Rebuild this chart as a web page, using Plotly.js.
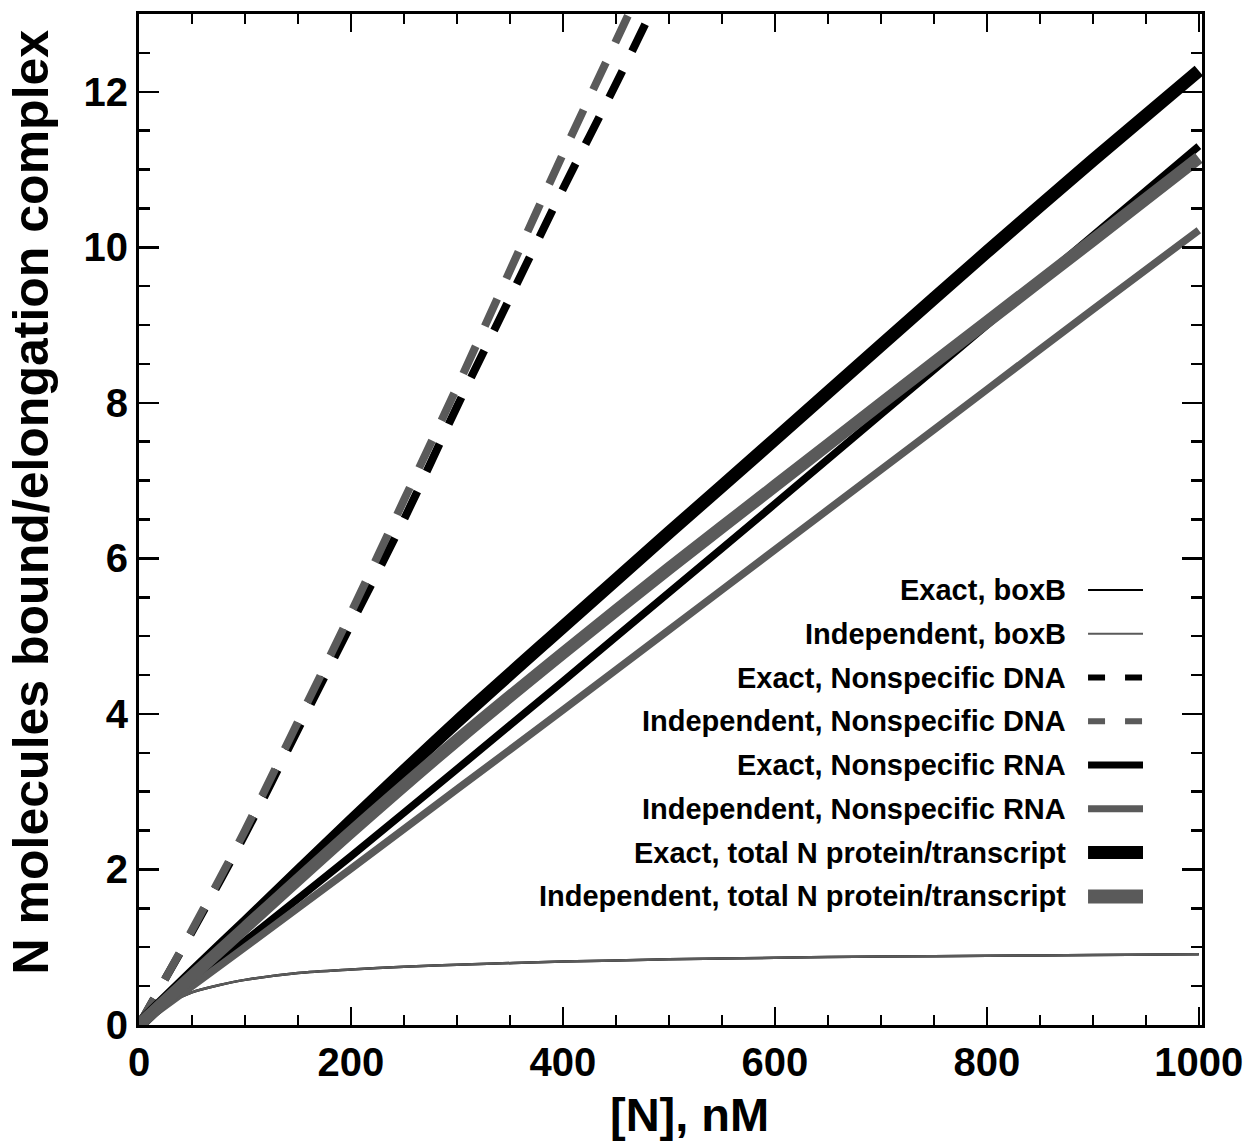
<!DOCTYPE html>
<html><head><meta charset="utf-8">
<script src="https://cdn.plot.ly/plotly-3.0.1.min.js"></script>
<style>html,body{margin:0;padding:0;background:#fff}#chart{width:1243px;height:1148px}</style>
</head><body><div id="chart"></div>
<script>
// ---- data ----
const seriesNames = [
  "Exact, boxB",
  "Independent, boxB",
  "Exact, Nonspecific DNA",
  "Independent, Nonspecific DNA",
  "Exact, Nonspecific RNA",
  "Independent, Nonspecific RNA",
  "Exact, total N protein/transcript",
  "Independent, total N protein/transcript"
];
const xTitle = "[N], nM";
const yTitle = "N molecules bound/elongation complex";
const xTickVals = [0, 200, 400, 600, 800, 1000];
const yTickVals = [0, 2, 4, 6, 8, 10, 12];

const boxBX = [0, 10, 25, 50, 75, 100, 150, 200, 250, 300, 400, 500, 600, 700, 800, 900, 1000];
const exactBoxB = [0, 0.12, 0.26, 0.42, 0.51, 0.58, 0.67, 0.715, 0.75, 0.775, 0.815, 0.845, 0.865, 0.88, 0.89, 0.90, 0.91];
const indepBoxB = [0, 0.12, 0.26, 0.42, 0.51, 0.58, 0.67, 0.715, 0.75, 0.775, 0.815, 0.845, 0.865, 0.88, 0.89, 0.90, 0.91];
const dnaX = [0, 25, 50, 100, 150, 200, 250, 300, 350, 400, 450, 500];
const exactDNA = [0, 0.6, 1.2, 2.45, 3.8, 5.15, 6.5, 7.95, 9.35, 10.75, 12.1, 13.5];
const indepDNA = [0, 0.6, 1.22, 2.5, 3.9, 5.3, 6.75, 8.2, 9.7, 11.2, 12.65, 14.1];
const lineX = [0, 50, 100, 200, 300, 400, 500, 600, 700, 800, 900, 1000];
const exactRNA = [0, 0.54, 1.08, 2.17, 3.29, 4.42, 5.56, 6.7, 7.85, 9.0, 10.15, 11.3];
const indepRNA = [0, 0.5, 1.0, 2.01, 3.03, 4.05, 5.08, 6.11, 7.14, 8.17, 9.2, 10.22];
const exactTotal = [0, 0.66, 1.31, 2.62, 3.9, 5.12, 6.33, 7.53, 8.74, 9.94, 11.12, 12.27];
const indepTotal = [0, 0.63, 1.25, 2.48, 3.66, 4.78, 5.87, 6.93, 7.99, 9.04, 10.09, 11.15];

// ---- styles ----
const BLACK = "#000000", GRAY = "#5a5a5a";
const FONT = "Liberation Sans, Arial, Helvetica, sans-serif";
const styles = [
  {color: BLACK, width: 2.5, dash: "solid", lw: 2},
  {color: GRAY,  width: 2.5, dash: "solid", lw: 2},
  {color: BLACK, width: 8,   dash: "30px,22px", lw: 6, ldash: "17px,20px"},
  {color: GRAY,  width: 8,   dash: "30px,22px", lw: 6, ldash: "17px,20px"},
  {color: BLACK, width: 7.5, dash: "solid", lw: 7},
  {color: GRAY,  width: 7.5, dash: "solid", lw: 7},
  {color: BLACK, width: 13,  dash: "solid", lw: 13},
  {color: GRAY,  width: 12.5,dash: "solid", lw: 14}
];
const xs = [boxBX, boxBX, dnaX, dnaX, lineX, lineX, lineX, lineX];
const ys = [exactBoxB, indepBoxB, exactDNA, indepDNA, exactRNA, indepRNA, exactTotal, indepTotal];

const traces = seriesNames.map((n, i) => ({
  type: "scatter", mode: "lines", name: n, x: xs[i], y: ys[i],
  line: {color: styles[i].color, width: styles[i].width, dash: styles[i].dash, shape: "spline", smoothing: 0.8},
  showlegend: false, hoverinfo: "skip"
}));

// manual legend (text left, sample right) in paper coordinates
const legTop = 0.4303, legStep = 0.0433;
const textRight = 0.874, sampleL = 0.8928, sampleR = 0.9445;
const annotations = seriesNames.map((n, i) => ({
  xref: "paper", yref: "paper", x: textRight, y: legTop - i * legStep,
  xanchor: "right", yanchor: "middle", showarrow: false, text: n,
  font: {family: FONT, size: 29, color: "#000", weight: "bold"}
}));
// axis titles placed as annotations to match the reference position
annotations.push({
  xref: "paper", yref: "paper", x: 0.518, y: -0.089, xanchor: "center", yanchor: "middle",
  showarrow: false, text: xTitle, font: {family: FONT, size: 47, color: "#000", weight: "bold"}
});
annotations.push({
  xref: "paper", yref: "paper", x: -0.1015, y: 0.517, xanchor: "center", yanchor: "middle",
  textangle: -90, showarrow: false, text: yTitle, font: {family: FONT, size: 50, color: "#000", weight: "bold"}
});
const shapes = seriesNames.map((n, i) => ({
  type: "line", xref: "paper", yref: "paper",
  x0: sampleL, x1: sampleR, y0: legTop - i * legStep, y1: legTop - i * legStep,
  line: {color: styles[i].color, width: styles[i].lw, dash: styles[i].ldash || "solid"}
}));

const axisCommon = {
  showgrid: false, zeroline: false, showline: true, linecolor: "#000", linewidth: 3,
  mirror: "allticks", ticks: "inside", tickcolor: "#000", tickwidth: 2.5,
  ticklabeloverflow: "allow",
  tickfont: {family: FONT, size: 40, color: "#000", weight: "bold"}
};

const layout = {
  width: 1243, height: 1148,
  margin: {l: 139, r: 41, t: 14, b: 123},
  paper_bgcolor: "#fff", plot_bgcolor: "#fff",
  showlegend: false,
  xaxis: Object.assign({}, axisCommon, {
    range: [0, 1003], tickvals: xTickVals, ticklen: 18,
    minor: {dtick: 50, tick0: 0, ticks: "inside", ticklen: 10, tickwidth: 2.5, tickcolor: "#000"}
  }),
  yaxis: Object.assign({}, axisCommon, {
    range: [0, 13], tickvals: yTickVals, ticklen: 20,
    minor: {dtick: 0.5, tick0: 0, ticks: "inside", ticklen: 11, tickwidth: 2.5, tickcolor: "#000"}
  }),
  annotations: annotations,
  shapes: shapes
};

Plotly.newPlot("chart", traces, layout, {staticPlot: true});
</script></body></html>
